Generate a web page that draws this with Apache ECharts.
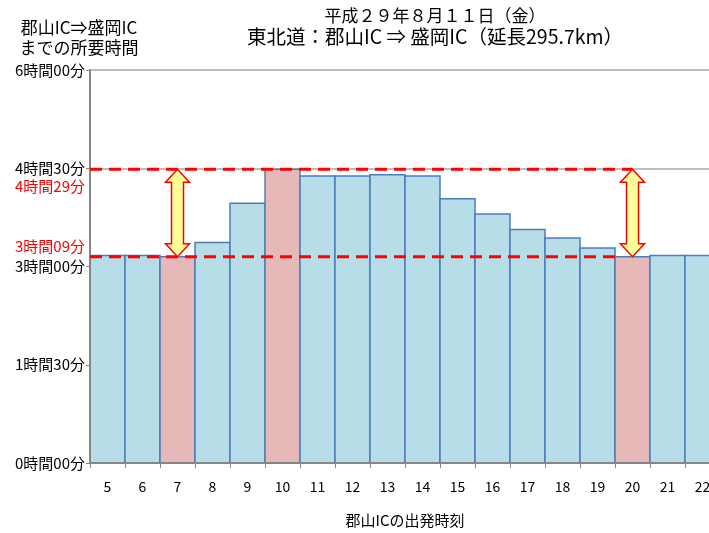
<!DOCTYPE html>
<html>
<head>
<meta charset="utf-8">
<script src="https://cdn.jsdelivr.net/npm/echarts@6/dist/echarts.min.js"></script>
<style>
  html, body { margin: 0; padding: 0; background: #fff; }
  #chart { width: 709px; height: 533px; }
</style>
</head>
<body>
<div id="chart"></div>
<script>
// Departure hour at Koriyama IC
const hours = ['5','6','7','8','9','10','11','12','13','14','15','16','17','18','19','20','21','22'];
// Travel time Koriyama IC -> Morioka IC, in minutes
const minutes = [190, 190, 189, 202, 238, 269, 263, 263, 264, 263, 242, 228, 214, 206, 197, 189, 190, 190];
// Hours highlighted as the shortest / longest trips
const highlighted = ['7', '10', '20'];
// Reference levels (minutes) and the hours where the span arrows stand
const maxLevel = 269;
const minLevel = 189;
const arrowHours = ['7', '20'];

const FONT = '"Noto Sans CJK JP", "Noto Sans", sans-serif';
const BLUE_FILL = '#b7dde8';
const PINK_FILL = '#e6b9b8';
const BAR_EDGE = '#4a7ebb';
const AXIS_GRAY = '#868686';

function fmt(m) {
  const h = Math.floor(m / 60);
  const mm = m % 60;
  return h + '時間' + (mm < 10 ? '0' : '') + mm + '分';
}

const idx = h => hours.indexOf(h);

const chart = echarts.init(document.getElementById('chart'), null, { renderer: 'canvas' });

// Bars: [category index, minutes, highlighted flag]
const barData = minutes.map((v, i) => [i, v, highlighted.includes(hours[i]) ? 1 : 0]);

// Full-band bars whose edges are shared with their neighbours
function renderBar(params, api) {
  const i = api.value(0);
  const top = api.coord([i, api.value(1)]);
  const base = api.coord([i, 0]);
  const w = api.size([1, 0])[0];
  return {
    type: 'rect',
    shape: { x: top[0] - w / 2, y: top[1], width: w, height: base[1] - top[1] },
    style: {
      fill: api.value(2) ? PINK_FILL : BLUE_FILL,
      stroke: BAR_EDGE,
      lineWidth: 1.5
    }
  };
}

// band positions on the hidden linear x axis (one unit per hour band)
const bandCenter = h => idx(h) + 0.5;
const bandLeft = h => idx(h);

const arrowData = arrowHours.map(h => [bandCenter(h), minLevel, maxLevel]);

function renderArrow(params, api) {
  const x = api.value(0);
  const top = api.coord([x, api.value(2)]);
  const bot = api.coord([x, api.value(1)]);
  const cx = top[0];
  const headW = 12, shaftW = 6, headH = 13;
  const pts = [
    [cx, top[1]],
    [cx + headW, top[1] + headH],
    [cx + shaftW, top[1] + headH],
    [cx + shaftW, bot[1] - headH],
    [cx + headW, bot[1] - headH],
    [cx, bot[1]],
    [cx - headW, bot[1] - headH],
    [cx - shaftW, bot[1] - headH],
    [cx - shaftW, top[1] + headH],
    [cx - headW, top[1] + headH]
  ];
  return {
    type: 'polygon',
    shape: { points: pts },
    style: { fill: '#ffff99', stroke: '#ff0000', lineWidth: 1.5 }
  };
}

const yScale = { type: 'value', min: 0, max: 360, interval: 90, position: 'left' };

const option = {
  animation: false,
  backgroundColor: '#ffffff',
  textStyle: { fontFamily: FONT },
  grid: { left: 90, top: 70, width: 630, height: 393, containLabel: false, outerBoundsMode: 'none' },
  xAxis: [
    {
      type: 'category',
      data: hours,
      boundaryGap: true,
      axisLine: { lineStyle: { color: AXIS_GRAY, width: 2 } },
      axisTick: { show: true, length: 5, lineStyle: { color: AXIS_GRAY, width: 1 } },
      axisLabel: { color: '#000', fontSize: 14, margin: 17, fontFamily: FONT },
      name: '郡山ICの出発時刻',
      nameLocation: 'middle',
      nameGap: 50,
      nameTextStyle: { color: '#000', fontSize: 15, fontFamily: FONT },
      splitLine: { show: false },
      z: 4
    },
    {
      type: 'value',
      min: 0,
      max: hours.length,
      show: false
    }
  ],
  yAxis: [
    // gridlines, kept behind the bars
    Object.assign({}, yScale, {
      axisLine: { show: false },
      axisTick: { show: false },
      axisLabel: { show: false },
      splitLine: { show: true, lineStyle: { color: '#a6a6a6', width: 1.5 } },
      z: 0
    }),
    // axis line, ticks and labels, drawn over the bars
    Object.assign({}, yScale, {
      axisLine: { show: true, onZero: false, lineStyle: { color: AXIS_GRAY, width: 2 } },
      axisTick: { show: true, length: 4, lineStyle: { color: AXIS_GRAY } },
      axisLabel: {
        color: '#000', fontSize: 15, margin: 5, fontFamily: FONT,
        formatter: v => fmt(v)
      },
      splitLine: { show: false },
      z: 4
    })
  ],
  series: [
    {
      type: 'custom',
      data: barData,
      renderItem: renderBar,
      z: 2
    },
    {
      type: 'line',
      xAxisIndex: 1,
      data: [[0, maxLevel], [bandCenter('20'), maxLevel]],
      symbol: 'none',
      lineStyle: { color: '#ff0000', width: 3, type: [12, 7] },
      z: 5
    },
    {
      type: 'line',
      xAxisIndex: 1,
      data: [[0, minLevel], [bandLeft('20'), minLevel]],
      symbol: 'none',
      lineStyle: { color: '#ff0000', width: 3, type: [12, 7] },
      z: 5
    },
    {
      type: 'custom',
      xAxisIndex: 1,
      data: arrowData,
      renderItem: renderArrow,
      z: 6
    }
  ],
  graphic: [
    {
      type: 'text', x: 435, y: 7,
      style: { text: '平成２９年８月１１日（金）', fontSize: 17, fill: '#000', fontFamily: FONT, textAlign: 'center' }
    },
    {
      type: 'text', x: 435, y: 27,
      style: { text: '東北道：郡山IC ⇒ 盛岡IC（延長295.7km）', fontSize: 19.5, fill: '#000', fontFamily: FONT, textAlign: 'center' }
    },
    {
      type: 'text', x: 79, y: 18,
      style: { text: '郡山IC⇒盛岡IC\nまでの所要時間', fontSize: 17, lineHeight: 20, fill: '#000', fontFamily: FONT, textAlign: 'center' }
    },
    {
      type: 'text', x: 85, y: 179,
      style: { text: fmt(maxLevel), fontSize: 15, fill: '#ff0000', fontFamily: FONT, textAlign: 'right' }
    },
    {
      type: 'text', x: 85, y: 239,
      style: { text: fmt(minLevel), fontSize: 15, fill: '#ff0000', fontFamily: FONT, textAlign: 'right' }
    }
  ]
};

chart.setOption(option);
</script>
</body>
</html>
